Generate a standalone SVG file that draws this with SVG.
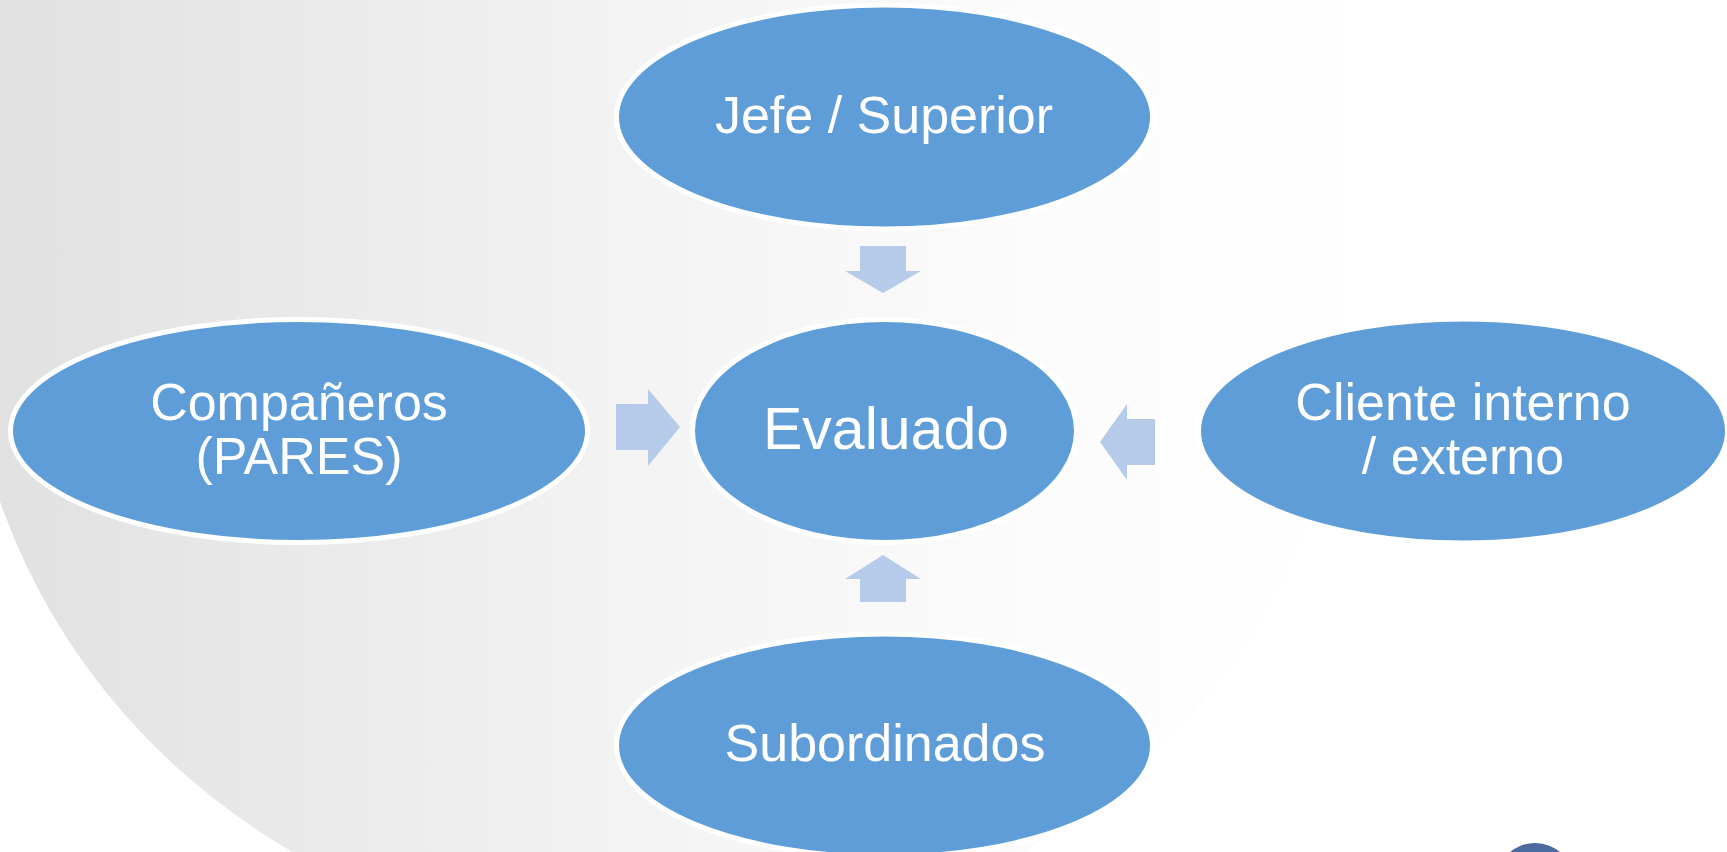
<svg xmlns="http://www.w3.org/2000/svg" width="1727" height="852" viewBox="0 0 1727 852">
  <defs>
    <linearGradient id="bg" gradientUnits="userSpaceOnUse" x1="0" y1="0" x2="1400" y2="0">
      <stop offset="0" stop-color="#e1e1e1"/>
      <stop offset="0.45" stop-color="#f3f3f3"/>
      <stop offset="0.75" stop-color="#fcfcfc"/>
      <stop offset="1" stop-color="#ffffff"/>
    </linearGradient>
    <style>
      .node { fill: #5f9dd8; stroke: #ffffff; stroke-width: 5; }
      .lbl { font-family: "Liberation Sans", Arial, sans-serif; fill: #ffffff; text-anchor: middle; font-size: 52px; }
      .big { font-size: 59px; }
      .arrow { fill: #b6cbe9; stroke: none; }
    </style>
  </defs>

  <rect x="0" y="0" width="1727" height="852" fill="#ffffff"/>
  <path d="M 1341.8,400 A 692 650 0 0 1 -25.8,400 L -25.8,-5 L 1341.8,-5 Z" fill="url(#bg)"/>
  <circle cx="1535" cy="882" r="39" fill="#4b6a9f"/>

  <g id="connectors">
    <polygon class="arrow" points="860,246 906,246 906,271 921,271 883,293 845,271 860,271"/>
    <polygon class="arrow" points="860,602 906,602 906,579 921,579 883,555 845,579 860,579"/>
    <polygon class="arrow" points="616,404 648,404 648,389 680,427 648,466 648,450 616,450"/>
    <polygon class="arrow" points="1155,419 1127,419 1127,404 1100,442 1127,480 1127,465 1155,465"/>
  </g>

  <g id="node-jefe">
    <ellipse class="node" cx="884.5" cy="117" rx="268" ry="112"/>
    <text class="lbl" x="884" y="133">Jefe / Superior</text>
  </g>

  <g id="node-evaluado">
    <ellipse class="node" cx="884.5" cy="431" rx="192" ry="111.5"/>
    <text class="lbl big" x="886" y="449">Evaluado</text>
  </g>

  <g id="node-companeros">
    <ellipse class="node" cx="299" cy="431" rx="288.5" ry="111.5"/>
    <text class="lbl" x="299" y="420">Compañeros</text>
    <text class="lbl" x="299" y="474">(PARES)</text>
  </g>

  <g id="node-cliente">
    <ellipse class="node" cx="1463" cy="431" rx="264.5" ry="112"/>
    <text class="lbl" x="1463" y="420">Cliente interno</text>
    <text class="lbl" x="1463" y="474">/ externo</text>
  </g>

  <g id="node-subordinados">
    <ellipse class="node" cx="884.5" cy="745.5" rx="268" ry="111.5"/>
    <text class="lbl" x="885" y="761">Subordinados</text>
  </g>
</svg>
